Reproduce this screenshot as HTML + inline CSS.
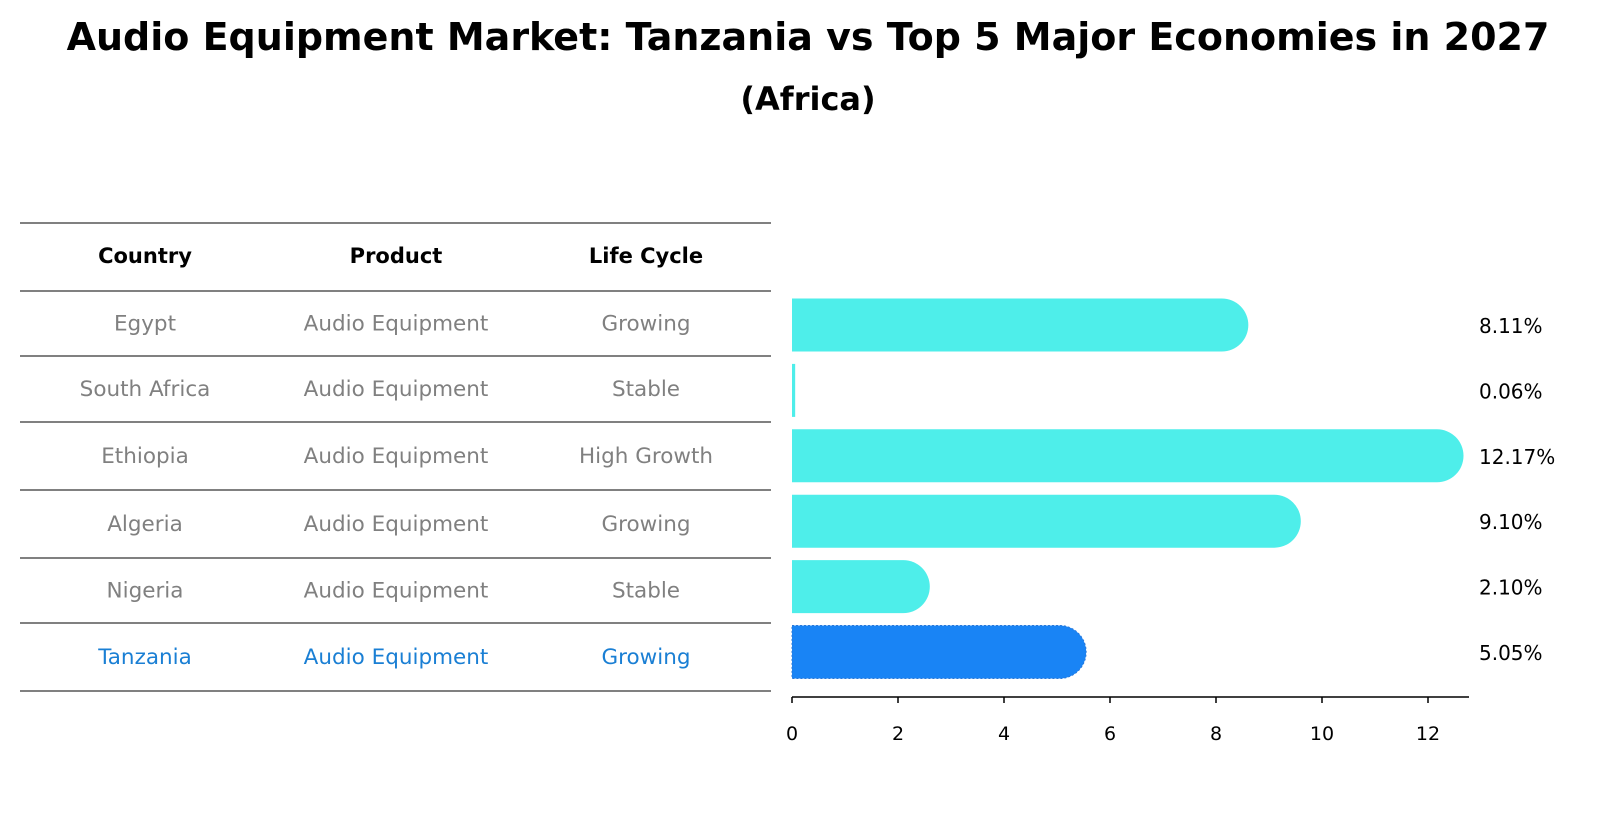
<!DOCTYPE html>
<html><head><meta charset="utf-8"><style>
body{margin:0;background:#fff;font-family:"DejaVu Sans","Liberation Sans",sans-serif;}
svg text{font-family:"DejaVu Sans","Liberation Sans",sans-serif;}
</style></head><body>
<svg id="chart" width="1604" height="823" viewBox="0 0 1604 823" xmlns="http://www.w3.org/2000/svg">
<text x="808" y="50" text-anchor="middle" font-size="38" font-weight="bold">Audio Equipment Market: Tanzania vs Top 5 Major Economies in 2027</text>
<text x="808" y="110" text-anchor="middle" font-size="32" font-weight="bold">(Africa)</text>
<g id="table"></g>
<g id="bars"></g>
</svg>
<script>
const countries=["Egypt","South Africa","Ethiopia","Algeria","Nigeria","Tanzania"];
const products=["Audio Equipment","Audio Equipment","Audio Equipment","Audio Equipment","Audio Equipment","Audio Equipment"];
const lifeCycles=["Growing","Stable","High Growth","Growing","Stable","Growing"];
const values=[8.11,0.06,12.17,9.10,2.10,5.05];
const ticks=[0,2,4,6,8,10,12];
const NS="http://www.w3.org/2000/svg";
function mk(t,a,p){const e=document.createElementNS(NS,t);for(const k in a)e.setAttribute(k,a[k]);p.appendChild(e);return e;}
const x=v=>792+v*53;
const rowY=i=>325+i*65.4;
const tbl=document.getElementById('table');
const lines=[223,291,356,422,490,558,623,691];
lines.forEach((ly,i)=>{const l=mk('line',{x1:20,x2:771,y1:ly,y2:ly,stroke:'#000','stroke-width':1},tbl);

});
const cols=[145,396,646];
["Country","Product","Life Cycle"].forEach((h,j)=>{const t=mk('text',{x:cols[j],y:263,'text-anchor':'middle','font-size':21,'font-weight':'bold'},tbl);t.textContent=h;

});
countries.forEach((c,i)=>{const cy=(lines[i+1]+lines[i+2])/2+7;const col=c==="Tanzania"?"#1a7fd4":"#808080";
[c,products[i],lifeCycles[i]].forEach((v,j)=>{const t=mk('text',{x:cols[j],y:cy,'text-anchor':'middle','font-size':21.5,fill:col},tbl);t.textContent=v;

});});
const g=document.getElementById('bars');
const h=53;
values.forEach((v,i)=>{const cy=rowY(i);const isT=countries[i]==="Tanzania";const fill=isT?"#1984f5":"#4eeeea";
const w=x(v)-x(0);
const d=w>h/2?`M${x(0)},${cy-h/2} H${x(v)} A${h/2},${h/2} 0 0 1 ${x(v)},${cy+h/2} H${x(0)} Z`:`M${x(0)},${cy-h/2} H${x(0)+Math.max(w,3)} V${cy+h/2} H${x(0)} Z`;
const p=mk('path',{d:d,fill:fill},g);
if(isT){p.setAttribute('stroke','#2a78d8');p.setAttribute('stroke-dasharray','2 2');}


const t=mk('text',{x:1479,y:cy+8,'font-size':20},g);t.textContent=v.toFixed(2)+'%';

});
const ax=mk('line',{x1:792,x2:1469,y1:697,y2:697,stroke:'#000','stroke-width':1.5},g);


ticks.forEach(v=>{const l=mk('line',{x1:x(v),x2:x(v),y1:697,y2:703,stroke:'#000','stroke-width':1.5},g);


const t=mk('text',{x:x(v),y:740,'text-anchor':'middle','font-size':19},g);t.textContent=v;

});
</script>
</body></html>
